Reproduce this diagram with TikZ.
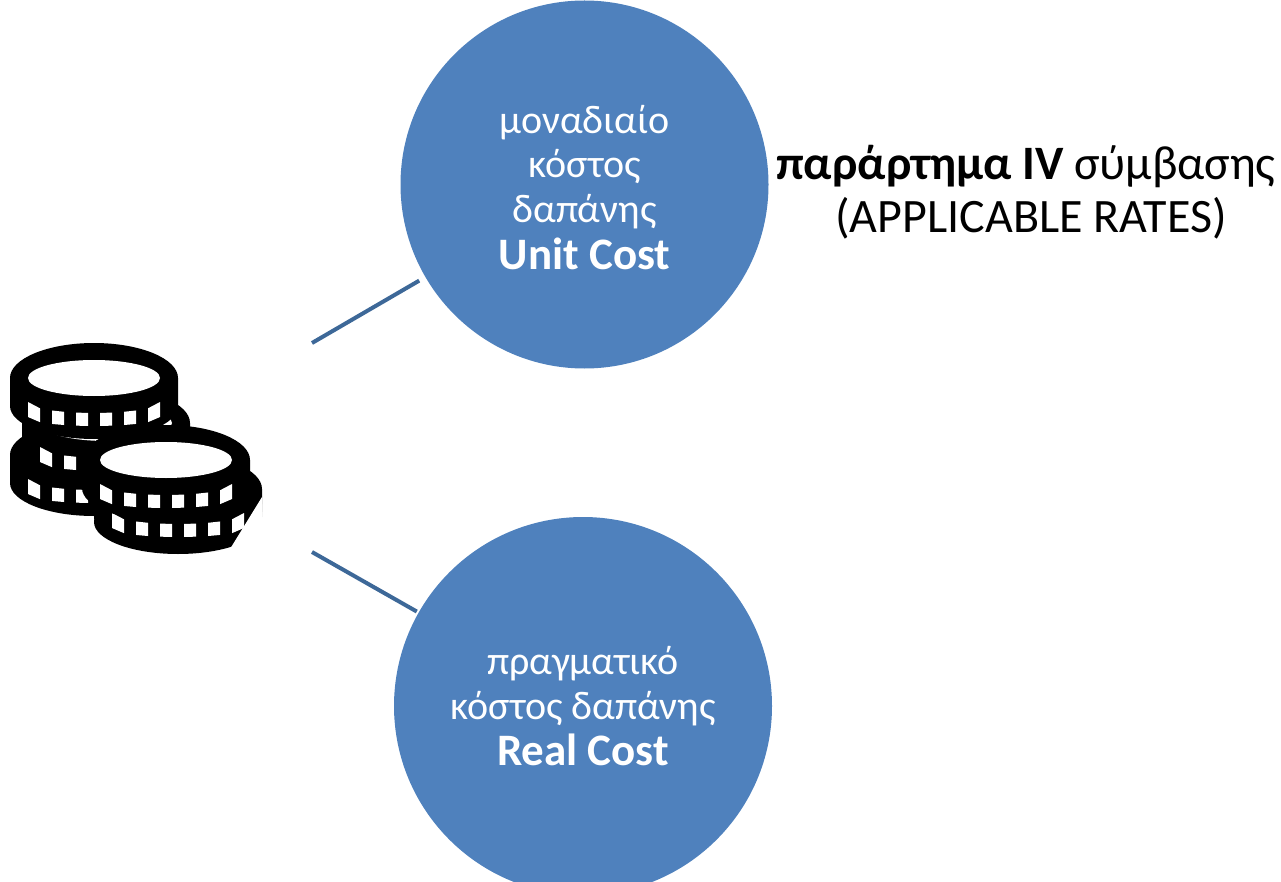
\documentclass[tikz,border=0pt]{standalone}
\usepackage{fontspec}
\setmainfont{Carlito}
\definecolor{fillblue}{HTML}{4F81BD}
\definecolor{lineblue}{HTML}{3D6898}
\tikzset{
 costcircle/.style={circle,fill=fillblue,draw=none,text=white,align=center,inner sep=0pt,font=\fontsize{40}{44.5}\selectfont},
 link/.style={draw=lineblue,line width=4pt},
 plain/.style={inner sep=0pt,align=center,font=\fontsize{48}{53}\selectfont}
}
\newcommand{\bigbold}[1]{{\fontsize{45}{44.5}\selectfont\bfseries #1}}
\newcommand{\coin}[2]{%
 \begin{scope}[shift={(#1,#2)}]
 \fill[black] (-84,0) arc[start angle=180,end angle=360,x radius=84,y radius=35] -- (84,28) arc[start angle=0,end angle=180,x radius=84,y radius=33] -- cycle;
 \foreach \a/\b in {-66/-54,-42/-30,-18/-6,6/18,30/42,54/66}{
  \pgfmathsetmacro{\ta}{24+11*sqrt(max(0,1-(\a/66)^2))}
  \pgfmathsetmacro{\tb}{24+11*sqrt(max(0,1-(\b/66)^2))}
  \pgfmathsetmacro{\ba}{39+9*sqrt(max(0,1-(\a/66)^2))}
  \pgfmathsetmacro{\bb}{39+9*sqrt(max(0,1-(\b/66)^2))}
  \fill[white] (\a,\ta) -- (\b,\tb) -- (\b,\bb) -- (\a,\ba) -- cycle;
 }
 \fill[white] (0,0) ellipse[x radius=66,y radius=18];
 \end{scope}}
\begin{document}
\begin{tikzpicture}[x=1pt,y=-1pt]
\useasboundingbox (0,0) rectangle (1281,882);
\node[costcircle,minimum size=368pt] (unit) at (584.5,184.5) {\rule{0pt}{34pt}μοναδιαίο\\κόστος\\δαπάνης\\[3pt]\bigbold{Unit Cost}};
\node[costcircle,minimum size=378pt] (real) at (583,706) {πραγματικό\\[1pt]κόστος δαπάνης\\[1pt]\bigbold{Real Cost}};
\node[plain] (annex) at (1026,192) {\textbf{παράρτημα IV} σύμβασης\\\hspace*{10pt}(APPLICABLE RATES)};
\coordinate (a1) at (312,343);
\coordinate (a2) at (312,552);
\draw[link,shorten >=7pt] (a1) -- (unit);
\draw[link,shorten >=2pt] (a2) -- (real);
\coin{94}{455}
\coin{106}{423}
\coin{94}{378}
\fill[black] (178,522) ellipse[x radius=84,y radius=32];
\coin{178}{489}
\fill[white] (262,497) -- (230,549) -- (264,558) -- cycle;
\coin{166}{460}
\end{tikzpicture}
\end{document}
